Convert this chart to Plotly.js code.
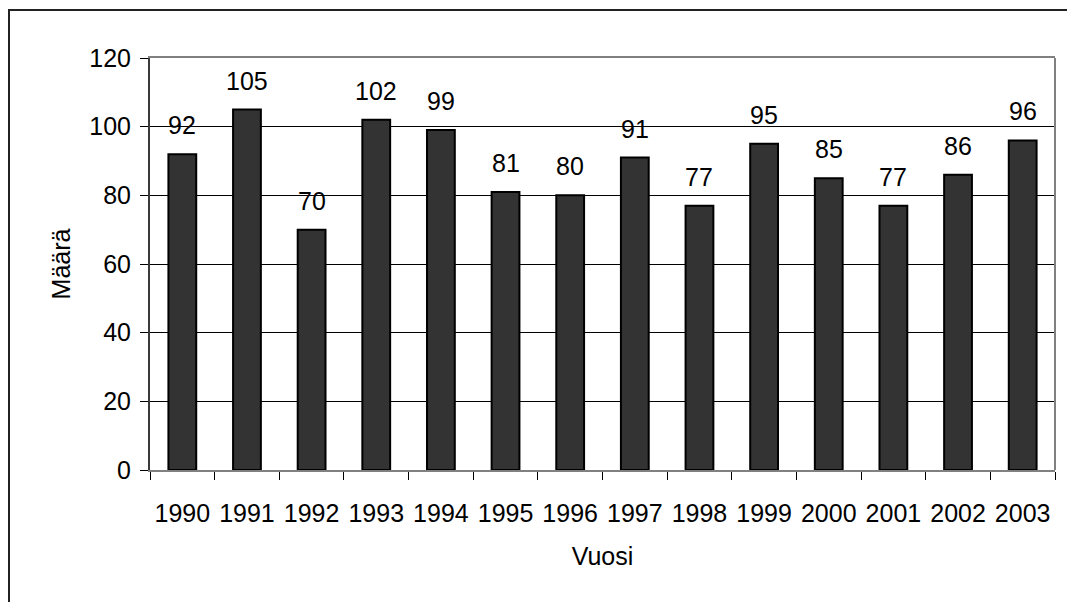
<!DOCTYPE html>
<html>
<head>
<meta charset="utf-8">
<script src="https://cdn.plot.ly/plotly-3.0.1.min.js"></script>
<style>
html,body{margin:0;padding:0;overflow:hidden;background:#fff;}
#wrap{position:relative;width:1067px;height:602px;overflow:hidden;}
#chart{position:absolute;left:0;top:0;width:1067px;height:602px;}
#frame{position:absolute;left:8px;top:9px;width:1200px;height:800px;border:2px solid #222;pointer-events:none;}
</style>
</head>
<body>
<div id="wrap"><div id="chart"></div><div id="frame"></div></div>
<script>
const years = ['1990','1991','1992','1993','1994','1995','1996','1997','1998','1999','2000','2001','2002','2003'];
const counts = [92,105,70,102,99,81,80,91,77,95,85,77,86,96];
const yTicks = [0,20,40,60,80,100,120];

const font = {family:'"Liberation Sans", Arial, sans-serif', size:25, color:'#000'};

const trace = {
  type:'bar', x:years, y:counts,
  marker:{color:'#333333', line:{color:'#000', width:2}},
  hoverinfo:'none'
};

const annotations = years.map((yr,i)=>({
  x:i, y:counts[i], xref:'x', yref:'y', text:String(counts[i]),
  showarrow:false, yanchor:'bottom', yshift:13, font:font
}));

const layout = {
  width:1067, height:602,
  margin:{l:150, r:12, t:58, b:132},
  paper_bgcolor:'rgba(0,0,0,0)', plot_bgcolor:'#fff',
  font:font,
  bargap:0.57,
  showlegend:false,
  xaxis:{
    type:'category', categoryorder:'array', categoryarray:years,
    range:[-0.5, years.length-0.5], autorange:false,
    tickson:'boundaries', ticks:'outside', ticklen:8, tickcolor:'#000', tickwidth:1,
    tickangle:0, ticklabelstandoff:20,
    showline:true, linecolor:'#808080', linewidth:2, mirror:true,
    showgrid:false, tickfont:font, automargin:false,
    title:{text:'Vuosi', font:font, standoff:21}
  },
  yaxis:{
    range:[0,120], autorange:false, tickvals:yTicks, ticktext:yTicks.map(String),
    ticks:'outside', ticklen:8, tickcolor:'#000', tickwidth:1,
    showline:true, linecolor:'#3a3a3a', linewidth:2, mirror:false,
    showgrid:true, gridcolor:'#000', gridwidth:1, zeroline:false,
    tickfont:font, automargin:false, ticklabelstandoff:4,
    title:{text:'Määrä', font:font, standoff:12}
  },
  shapes:[{type:'line', xref:'paper', yref:'paper', x0:1, x1:1, y0:0, y1:1,
           line:{color:'#808080', width:2}}],
  annotations:annotations
};

Plotly.newPlot('chart',[trace],layout,{staticPlot:true,displayModeBar:false});
</script>
</body>
</html>
